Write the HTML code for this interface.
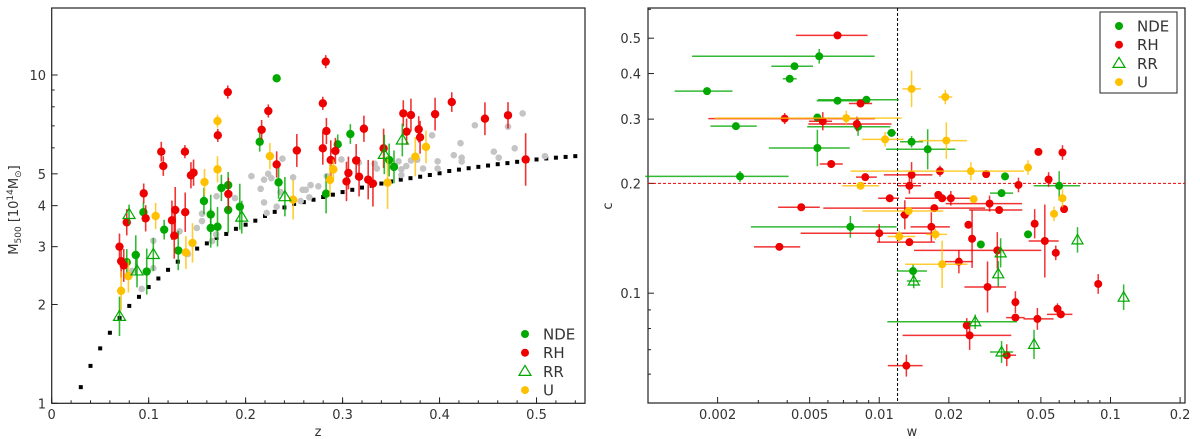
<!DOCTYPE html>
<html><head><meta charset="utf-8"><style>
body{margin:0;background:#fff}
svg{display:block;font-family:"DejaVu Sans","Liberation Sans",sans-serif}
</style></head><body>
<svg id="fig" width="1200" height="439" viewBox="0 0 1200 439" xmlns="http://www.w3.org/2000/svg">
<g id="left"></g>
<g id="right"></g>
</svg>
<script>
// ---------- LEFT PANEL DATA (z, M500 [1e14 Msun], error in dex) ----------
const ndeZ=[.232,.2145,.234,.157,.175,.182,.164,.182,.194,.0946,.116,.164,.171,.1305,.0867,.098,.0774,.308,.295,.283,.348,.353];
const ndeM=[9.77,6.26,4.71,4.13,4.53,4.62,3.76,3.88,3.97,3.82,3.38,3.42,3.45,2.92,2.83,2.52,2.69,6.61,6.15,4.35,5.51,5.25];
const ndeMe=[.01,.03,.05,.04,.04,.04,.06,.07,.07,.03,.03,.06,.06,.06,.06,.07,.04,.03,.03,.06,.05,.05];
const rrZ=[.0798,.0699,.088,.1048,.196,.2405,.343,.3616];
const rrM=[3.76,1.84,2.53,2.84,3.69,4.26,5.73,6.34];
const rrMe=[.03,.06,.05,.05,.05,.06,.06,.05];
const uZ=[.171,.171,.225,.1576,.1072,.1452,.1384,.0791,.0716,.249,.2905,.287,.3464,.375,.386];
const uM=[7.24,5.16,5.66,4.72,3.72,3.08,2.88,2.44,2.2,4.17,5.16,4.79,4.7,5.64,6.04];
const uMe=[.02,.04,.04,.04,.04,.06,.05,.05,.06,.06,.03,.05,.08,.06,.05];
const rhZ=[.1816,.2234,.2165,.1713,.113,.1374,.1151,.1463,.1436,.232,.1822,.0949,.0969,.0774,.1274,.1377,.124,.1264,.0699,.0716,.0743,.2528,.2826,.2796,.2833,.2796,.322,.2878,.2926,.314,.317,.306,.304,.3264,.3313,.3423,.3626,.3705,.366,.3785,.3799,.3954,.4126,.4468,.4706,.4888];
const rhM=[8.87,7.77,6.81,6.55,5.84,5.84,5.28,5.04,4.95,5.34,4.34,4.36,3.66,3.56,3.88,3.82,3.61,3.24,3.0,2.71,2.63,5.89,10.98,8.2,6.75,5.98,6.86,5.51,5.87,5.49,4.90,5.03,4.74,4.80,4.67,5.98,7.64,7.55,6.72,6.83,6.46,7.6,8.27,7.36,7.54,5.53];
const rhMe=[.02,.02,.03,.02,.03,.02,.03,.04,.04,.04,.05,.03,.04,.04,.07,.06,.06,.07,.04,.05,.05,.05,.02,.02,.04,.05,.04,.06,.04,.05,.06,.05,.06,.06,.07,.06,.04,.05,.04,.04,.05,.05,.03,.05,.04,.08];
const grayZ=[.083,.0928,.1048,.1048,.1319,.1405,.1497,.155,.155,.170,.1655,.1696,.189,.206,.2155,.219,.219,.2233,.2265,.238,.236,.2217,.232,.249,.2588,.262,.267,.275,.2657,.2567,.2837,.2988,.3167,.333,.3354,.3577,.3606,.3606,.3657,.3705,.377,.383,.3923,.398,.398,.4216,.4147,.4228,.4228,.4364,.456,.461,.4706,.4775,.4857,.5087];
const grayM=[2.53,2.23,2.58,3.13,3.34,2.85,3.42,3.59,3.78,4.27,3.12,3.27,4.22,4.92,4.5,4.8,4.09,5.0,4.85,5.56,4.4,3.8,3.97,4.88,4.47,4.47,4.62,4.58,4.24,4.13,4.92,5.53,5.41,5.37,5.19,5.46,5.16,4.96,5.28,5.49,5.52,5.19,6.55,5.46,5.19,6.2,5.7,5.6,5.45,7.03,5.84,5.6,6.96,5.98,7.64,5.66];
const limZ=[.03,.04,.05,.06,.07,.08,.09,.10,.11,.12,.13,.14,.15,.16,.17,.18,.19,.20,.21,.22,.23,.24,.25,.26,.27,.28,.29,.30,.31,.32,.33,.34,.35,.36,.37,.38,.39,.40,.41,.42,.43,.44,.45,.46,.47,.48,.49,.50,.51,.52,.53,.54];
const limM=[1.12,1.3,1.47,1.64,1.82,1.98,2.11,2.26,2.4,2.55,2.7,2.83,2.96,3.07,3.19,3.28,3.4,3.5,3.6,3.72,3.83,3.95,4.05,4.1,4.17,4.25,4.32,4.4,4.47,4.54,4.6,4.67,4.74,4.8,4.85,4.9,4.96,5.02,5.1,5.15,5.2,5.25,5.3,5.35,5.39,5.44,5.48,5.53,5.57,5.6,5.63,5.66];
const leftXTicks=[0,0.1,0.2,0.3,0.4,0.5];
const leftYTicks=[1,2,3,4,5,10];

// ---------- RIGHT PANEL DATA (w, c, w-error [lo,hi] dex, c-error dex) ----------
const rNdeW=[.0055,.0043,.0041,.0018,.0066,.0088,.0054,.0024,.0081,.0113,.0138,.0162,.0054,.0025,.035,.0338,.060,.0075,.044,.0275,.014];
const rNdeC=[.446,.419,.387,.358,.337,.339,.303,.287,.286,.275,.26,.248,.25,.209,.209,.188,.197,.152,.145,.136,.115];
const rNdeWe=[[.55,.24],[.10,.08],[.03,.03],[.14,.11],[.09,.10],[.21,.14],[.01,.01],[.11,.09],[.22,.14],[.02,.02],[.05,.05],[.18,.12],[.21,.14],[.41,.21],[.01,.01],[.05,.05],[.11,.09],[.43,.20],[.01,.01],[.01,.01],[.07,.06]];
const rNdeCe=[.02,.01,.01,.01,.01,.01,.01,.01,.025,.01,.016,.055,.05,.015,.01,.01,.04,.03,.01,.01,.02];
const rRrW=[.072,.0335,.0327,.0141,.114,.026,.0467,.0338];
const rRrC=[.140,.129,.113,.108,.0975,.0835,.0724,.069];
const rRrWe=[[0,0],[0,0],[0,0],[.03,.03],[0,0],[.38,.18],[0,0],[.05,.05]];
const rRrCe=[.035,.04,.035,.02,.035,.02,.04,.03];
const rUW=[.0138,.0193,.0072,.0106,.0195,.0249,.044,.0083,.0256,.0134,.062,.057,.0175,.0122,.0187];
const rUC=[.363,.345,.302,.264,.262,.216,.221,.197,.181,.168,.182,.165,.145,.143,.12];
const rUWe=[[.04,.04],[.03,.03],[.57,.24],[.10,.08],[.12,.09],[.52,.23],[.01,.01],[.08,.08],[0,0],[.20,.15],[0,0],[0,0],[.04,.05],[.05,.07],[.16,.11]];
const rUCe=[.05,.02,.02,.02,.05,.025,.02,.01,.01,.01,.025,.02,.015,.015,.065];
const rRhW=[.0066,.0083,.0039,.0057,.008,.0062,.0087,.0138,.0183,.029,.0488,.062,.054,.040,.0135,.0111,.018,.0187,.0204,.030,.033,.0173,.0046,.0129,.063,.047,.0243,.0168,.01,.0135,.0252,.052,.0037,.0324,.058,.0221,.0294,.0885,.0388,.059,.061,.0388,.0483,.0239,.0246,.0356,.0131];
const rRhC=[.509,.331,.301,.296,.291,.226,.208,.211,.216,.212,.244,.243,.205,.198,.197,.182,.186,.182,.182,.176,.169,.171,.172,.164,.170,.155,.154,.152,.146,.138,.141,.139,.134,.131,.129,.122,.104,.106,.0945,.0906,.0875,.0857,.085,.0816,.0766,.0676,.0633];
const rRhWe=[[.18,.13],[.05,.05],[.33,.39],[.06,.04],[.21,.15],[.05,.05],[.04,.05],[.12,.09],[0,0],[0,0],[0,0],[0,0],[0,0],[0,0],[.05,.05],[.05,.04],[0,0],[.16,.12],[0,0],[.19,.14],[.13,.10],[.48,.22],[.10,.08],[.02,.02],[0,0],[0,0],[.01,.01],[.09,.08],[.34,.23],[.14,.11],[0,0],[.07,.06],[.11,.09],[.36,.19],[0,0],[.06,.06],[.10,.08],[0,0],[0,0],[0,0],[.06,.05],[.04,.04],[.06,.07],[0,0],[.29,.18],[.02,.04],[.08,.07]];
const rRhCe=[.01,.01,.015,.025,.02,.01,.01,.035,.015,.01,.01,.02,.02,.02,.022,.01,.01,.01,.02,.022,.01,.01,.01,.04,.01,.04,.01,.04,.025,.01,.08,.10,.01,.05,.02,.032,.07,.027,.03,.015,.01,.01,.03,.02,.04,.03,.03];
const rightXTicks=[0.002,0.005,0.01,0.02,0.05,0.1,0.2];
const rightYTicks=[0.1,0.2,0.3,0.4,0.5];
const wThreshold=0.012, cThreshold=0.2;

const NS='http://www.w3.org/2000/svg';
const GREEN='#00a800',RED='#ee0000',YEL='#ffc000',GRAY='#c4c4c4';
function mk(parent,tag,attrs,text){const e=document.createElementNS(NS,tag);for(const k in attrs)e.setAttribute(k,attrs[k]);if(text!==undefined)e.textContent=text;parent.appendChild(e);return e;}

// ---- left axes ----
const L={x0:51.7,x1:585,y0:8,y1:403.3,zmax:0.55,mmin:1,mmax:16};
function lx(z){return L.x0+z/L.zmax*(L.x1-L.x0);}
function ly(m){return L.y1-(Math.log10(m)-Math.log10(L.mmin))/(Math.log10(L.mmax)-Math.log10(L.mmin))*(L.y1-L.y0);}
// ---- right axes ----
const R={x0:648,x1:1185,y0:8,y1:403,wmin:0.001,wmax:0.21,cmin:0.05,cmax:0.605};
function rx(w){return R.x0+(Math.log10(w)-Math.log10(R.wmin))/(Math.log10(R.wmax)-Math.log10(R.wmin))*(R.x1-R.x0);}
function ry(c){return R.y1-(Math.log10(c)-Math.log10(R.cmin))/(Math.log10(R.cmax)-Math.log10(R.cmin))*(R.y1-R.y0);}

const gl=document.getElementById('left'), gr=document.getElementById('right');

// ===== LEFT =====
let frame=mk(gl,'rect',{x:L.x0,y:L.y0,width:L.x1-L.x0,height:L.y1-L.y0,fill:'none',stroke:'#222','stroke-width':1.2});


for(let v=0;v<=0.55001;v+=0.02){const X=lx(v);const t=mk(gl,'line',{x1:X,x2:X,y1:L.y1,y2:L.y1-3,stroke:'#222','stroke-width':1});

}
leftXTicks.forEach(v=>{const X=lx(v);const t=mk(gl,'line',{x1:X,x2:X,y1:L.y1,y2:L.y1-6,stroke:'#222','stroke-width':1});


const lb=mk(gl,'text',{x:X,y:419,'font-size':13,'text-anchor':'middle',fill:'#333'},String(v));

});
[1,2,3,4,5,6,7,8,9,10,16].forEach(v=>{const Y=ly(v);const maj=leftYTicks.includes(v);const t=mk(gl,'line',{x1:L.x0,x2:L.x0+(maj?6:3),y1:Y,y2:Y,stroke:'#222','stroke-width':1});

});
leftYTicks.forEach(v=>{const lb=mk(gl,'text',{x:46,y:ly(v)+5,'font-size':13,'text-anchor':'end',fill:'#333'},String(v));

});
let xt=mk(gl,'text',{x:318,y:436,'font-size':13,'text-anchor':'middle',fill:'#333'},'z');


let yt=mk(gl,'text',{transform:'translate(18,210) rotate(-90)','font-size':13,'text-anchor':'middle',fill:'#333'});


mk(yt,'tspan',{},'M');mk(yt,'tspan',{'font-size':9,dy:3},'500');mk(yt,'tspan',{dy:-3},' [10');mk(yt,'tspan',{'font-size':9,dy:-5},'14');mk(yt,'tspan',{dy:5},'M');mk(yt,'tspan',{'font-size':9,dy:3},'⊙');mk(yt,'tspan',{dy:-3},']');

limZ.forEach((z,i)=>{const s=mk(gl,'rect',{x:lx(z)-2,y:ly(limM[i])-2,width:4,height:4,fill:'#000'});

});
grayZ.forEach((z,i)=>{const c=mk(gl,'circle',{cx:lx(z),cy:ly(grayM[i]),r:3.3,fill:GRAY});

});
function leftSeries(zs,ms,es,color,name,tri){zs.forEach((z,i)=>{const X=lx(z),Y=ly(ms[i]),e=es[i];
const g=mk(gl,'g',{});


mk(g,'line',{x1:X,x2:X,y1:ly(ms[i]*Math.pow(10,e)),y2:ly(ms[i]/Math.pow(10,e)),stroke:color,'stroke-width':1.6,'stroke-opacity':.8});
if(tri)mk(g,'path',{d:`M${X} ${Y-6}L${X+6} ${Y+4}L${X-6} ${Y+4}Z`,fill:'none',stroke:color,'stroke-width':1.2});
else mk(g,'circle',{cx:X,cy:Y,r:4.2,fill:color});});}
leftSeries(grayZ.slice(0,0),[],[],GRAY,'x');
leftSeries(ndeZ,ndeM,ndeMe,GREEN,'nde');
leftSeries(rhZ,rhM,rhMe,RED,'rh');
leftSeries(uZ,uM,uMe,YEL,'u');
leftSeries(rrZ,rrM,rrMe,GREEN,'rr',true);

function legend(g,x,y0,dy,prefix){const items=[['NDE',GREEN,0],['RH',RED,0],['RR',GREEN,1],['U',YEL,0]];
items.forEach((it,i)=>{const y=y0+i*dy;const e=mk(g,'g',{});


if(it[2])mk(e,'path',{d:`M${x} ${y-6}L${x+6} ${y+4}L${x-6} ${y+4}Z`,fill:'none',stroke:it[1],'stroke-width':1.2});
else mk(e,'circle',{cx:x,cy:y,r:4,fill:it[1]});
mk(e,'text',{x:x+18,y:y+5.5,'font-size':15,fill:'#333'},it[0]);});}
legend(gl,525,334,18.7,'left');

// ===== RIGHT =====
let rf=mk(gr,'rect',{x:R.x0,y:R.y0,width:R.x1-R.x0,height:R.y1-R.y0,fill:'none',stroke:'#222','stroke-width':1.2});


for(let d=-3;d<=-1;d++)for(let k=1;k<=9;k++){const v=k*Math.pow(10,d);if(v<R.wmin||v>R.wmax)continue;const X=rx(v);const maj=rightXTicks.some(t=>Math.abs(t-v)/v<1e-6);
const t=mk(gr,'line',{x1:X,x2:X,y1:R.y1,y2:R.y1-(maj?6:3),stroke:'#222','stroke-width':1});

}
rightXTicks.forEach(v=>{const lb=mk(gr,'text',{x:rx(v),y:419,'font-size':13,'text-anchor':'middle',fill:'#333'},String(v));

});
[0.05,0.06,0.07,0.08,0.09,0.1,0.2,0.3,0.4,0.5,0.6].forEach(v=>{const Y=ry(v);const maj=rightYTicks.includes(v);const t=mk(gr,'line',{x1:R.x0,x2:R.x0+(maj?6:3),y1:Y,y2:Y,stroke:'#222','stroke-width':1});

});
rightYTicks.forEach(v=>{const lb=mk(gr,'text',{x:641,y:ry(v)+5,'font-size':13,'text-anchor':'end',fill:'#333'},String(v));

});
let wt=mk(gr,'text',{x:912,y:436,'font-size':13,'text-anchor':'middle',fill:'#333'},'w');


let ct=mk(gr,'text',{transform:'translate(612,206) rotate(-90)','font-size':13,'text-anchor':'middle',fill:'#333'},'c');


let vl=mk(gr,'line',{x1:rx(wThreshold),x2:rx(wThreshold),y1:R.y0,y2:R.y1,stroke:'#000','stroke-width':1,'stroke-dasharray':'3,2'});


let hl=mk(gr,'line',{x1:R.x0,x2:R.x1,y1:ry(cThreshold),y2:ry(cThreshold),stroke:RED,'stroke-width':1,'stroke-dasharray':'3,2'});


function rightSeries(ws,cs,we,ce,color,name,tri){ws.forEach((w,i)=>{const X=rx(w),Y=ry(cs[i]);const e=we[i]||[0,0],ec=ce[i]||0;
const g=mk(gr,'g',{});


mk(g,'line',{x1:rx(w/Math.pow(10,e[0])),x2:rx(w*Math.pow(10,e[1])),y1:Y,y2:Y,stroke:color,'stroke-width':1.5,'stroke-opacity':.8});
mk(g,'line',{x1:X,x2:X,y1:ry(cs[i]*Math.pow(10,ec)),y2:ry(cs[i]/Math.pow(10,ec)),stroke:color,'stroke-width':1.5,'stroke-opacity':.8});
if(tri)mk(g,'path',{d:`M${X} ${Y-5.5}L${X+5.5} ${Y+4}L${X-5.5} ${Y+4}Z`,fill:'none',stroke:color,'stroke-width':1.2});
else mk(g,'circle',{cx:X,cy:Y,r:4,fill:color});});}
rightSeries(rNdeW,rNdeC,rNdeWe,rNdeCe,GREEN,'nde');
rightSeries(rRhW,rRhC,rRhWe,rRhCe,RED,'rh');
rightSeries(rUW,rUC,rUWe,rUCe,YEL,'u');
rightSeries(rRrW,rRrC,rRrWe,rRrCe,GREEN,'rr',true);
let lb=mk(gr,'rect',{x:1100,y:12,width:77,height:81,fill:'#fff',stroke:'#222','stroke-width':1});


legend(gr,1119,26,18.7,'right');
</script>
</body></html>
